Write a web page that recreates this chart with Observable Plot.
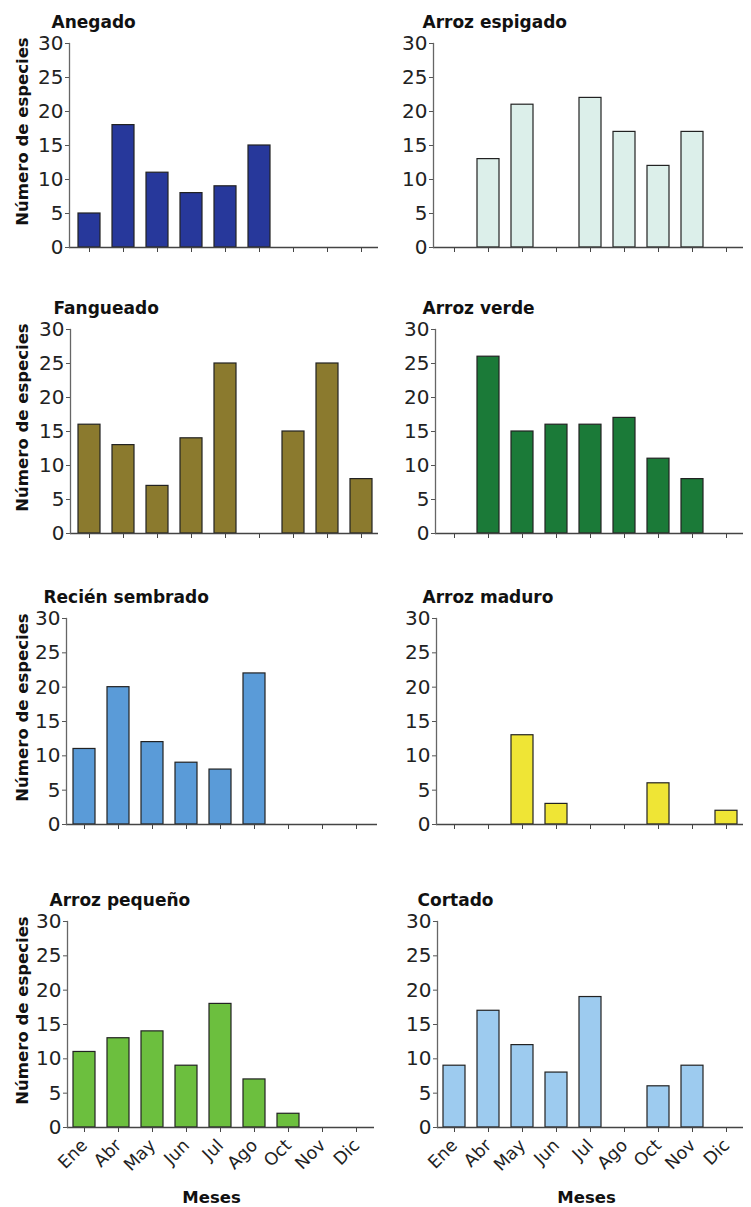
<!DOCTYPE html>
<html>
<head>
<meta charset="utf-8">
<script src="https://cdn.jsdelivr.net/npm/d3@7"></script>
<script src="https://cdn.jsdelivr.net/npm/@observablehq/plot@0.6"></script>
<style>
  body { margin: 0; background: #fff; }
  #root { position: relative; width: 751px; height: 1207px; overflow: hidden; }
  .panel { position: absolute; }
</style>
</head>
<body>
<div id="root"></div>
<script>
// ---------- data ----------
const months = ["Ene", "Abr", "May", "Jun", "Jul", "Ago", "Oct", "Nov", "Dic"];
const yTicks = [0, 5, 10, 15, 20, 25, 30];
const yAxisLabel = "Número de especies";
const xAxisLabel = "Meses";

const titles = ["Anegado", "Arroz espigado", "Fangueado", "Arroz verde",
                "Recién sembrado", "Arroz maduro", "Arroz pequeño", "Cortado"];

// values per month (null = no bar)
const anegado        = [5, 18, 11, 8, 9, 15, null, null, null];
const arrozEspigado  = [null, 13, 21, null, 22, 17, 12, 17, null];
const fangueado      = [16, 13, 7, 14, 25, null, 15, 25, 8];
const arrozVerde     = [null, 26, 15, 16, 16, 17, 11, 8, null];
const recienSembrado = [11, 20, 12, 9, 8, 22, null, null, null];
const arrozMaduro    = [null, null, 13, 3, null, null, 6, null, 2];
const arrozPequeno   = [11, 13, 14, 9, 18, 7, 2, null, null];
const cortado        = [9, 17, 12, 8, 19, null, 6, 9, null];

const seriesValues = [anegado, arrozEspigado, fangueado, arrozVerde,
                      recienSembrado, arrozMaduro, arrozPequeno, cortado];

// ---------- styles / layout ----------
const colors = ["#27389b", "#dcefea", "#8b7a2e", "#1b7a38",
                "#5a9bd8", "#efe535", "#6cbf3e", "#9dcbef"];

// absolute page positions per panel: svg left, svg width, y-axis x, x-axis end, band range, title x
const panelLayout = [
  { left: 0,   width: 380, axis: 69,  end: 378, range: [71, 379],  titleX: 51 },
  { left: 380, width: 371, axis: 433, end: 743, range: [436, 744], titleX: 422 },
  { left: 0,   width: 380, axis: 70,  end: 378, range: [71, 379],  titleX: 53 },
  { left: 380, width: 371, axis: 435, end: 743, range: [436, 744], titleX: 422 },
  { left: 0,   width: 380, axis: 66,  end: 377, range: [65, 374],  titleX: 43 },
  { left: 380, width: 371, axis: 436, end: 743, range: [436, 744], titleX: 422 },
  { left: 0,   width: 380, axis: 67,  end: 374, range: [65, 374],  titleX: 49 },
  { left: 380, width: 371, axis: 437, end: 743, range: [436, 744], titleX: 417 }
];
const rowFrames = [[43, 247], [329, 533], [618, 824], [921, 1127]];
const FONT = '"DejaVu Sans", Verdana, sans-serif';
const yLabelCenterX = 22;
const yLabelShift = -14;
const mesesCenterX = [211, 586];

const root = document.getElementById("root");

seriesValues.forEach((values, i) => {
  const row = Math.floor(i / 2);
  const isLeft = i % 2 === 0;
  const L = panelLayout[i];
  const bottomRow = row === 3;
  const [ft, fb] = rowFrames[row];
  const mt = 32;
  const mb = bottomRow ? 82 : 20;
  const marginLeft = L.axis - L.left;
  const marginRight = L.left + L.width - L.end;
  const data = months.map((m, k) => ({ mes: m, n: values[k] })).filter(d => d.n != null);

  const marks = [
    Plot.barY(data, { x: "mes", y: "n", fill: colors[i], stroke: "#222", strokeWidth: 1.2 }),
    Plot.ruleY([0], { stroke: "#444", strokeWidth: 1.3 }),
    Plot.frame({ anchor: "left", stroke: "#666", strokeWidth: 1.3 }),
    Plot.axisY({ ticks: yTicks, tickSize: 4, tickPadding: 2, label: null, fontSize: 20, stroke: "#555" }),
    Plot.axisX({
      tickSize: 5, tickPadding: 10, tickRotate: -45, fontSize: 17.5, label: null,
      tickFormat: bottomRow ? (d => d) : (() => ""), stroke: "#444"
    }),
    Plot.text([titles[i]], {
      text: d => d, frameAnchor: "top-left", dx: L.titleX - L.axis, dy: -16,
      lineAnchor: "bottom", textAnchor: "start", fontWeight: "bold", fontSize: 17, fill: "#111"
    })
  ];
  if (isLeft) {
    marks.push(Plot.text([yAxisLabel], {
      text: d => d, frameAnchor: "left", dx: yLabelCenterX - L.axis, dy: yLabelShift, rotate: -90,
      textAnchor: "middle", lineAnchor: "middle",
      fontWeight: "bold", fontSize: 16.5, fill: "#111"
    }));
  }
  if (bottomRow) {
    const frameCenter = (L.axis + L.end) / 2;
    marks.push(Plot.text([xAxisLabel], {
      text: d => d, frameAnchor: "bottom", dx: mesesCenterX[i % 2] - frameCenter, dy: 75,
      textAnchor: "middle", lineAnchor: "bottom", fontWeight: "bold", fontSize: 16.5, fill: "#111"
    }));
  }

  const plot = Plot.plot({
    width: L.width,
    height: mt + (fb - ft) + mb,
    marginTop: mt, marginBottom: mb,
    marginLeft, marginRight,
    style: { fontFamily: FONT, fontSize: "19px", color: "#222", background: "transparent", overflow: "visible" },
    x: { domain: months, range: [L.range[0] - L.left, L.range[1] - L.left], paddingInner: 0.36, paddingOuter: 0.18, align: 0.5 },
    y: { domain: [0, 30] },
    marks
  });
  const wrap = document.createElement("div");
  wrap.className = "panel";
  wrap.style.left = L.left + "px";
  wrap.style.top = (ft - mt) + "px";
  wrap.appendChild(plot);
  root.appendChild(wrap);
});
</script>
</body>
</html>
